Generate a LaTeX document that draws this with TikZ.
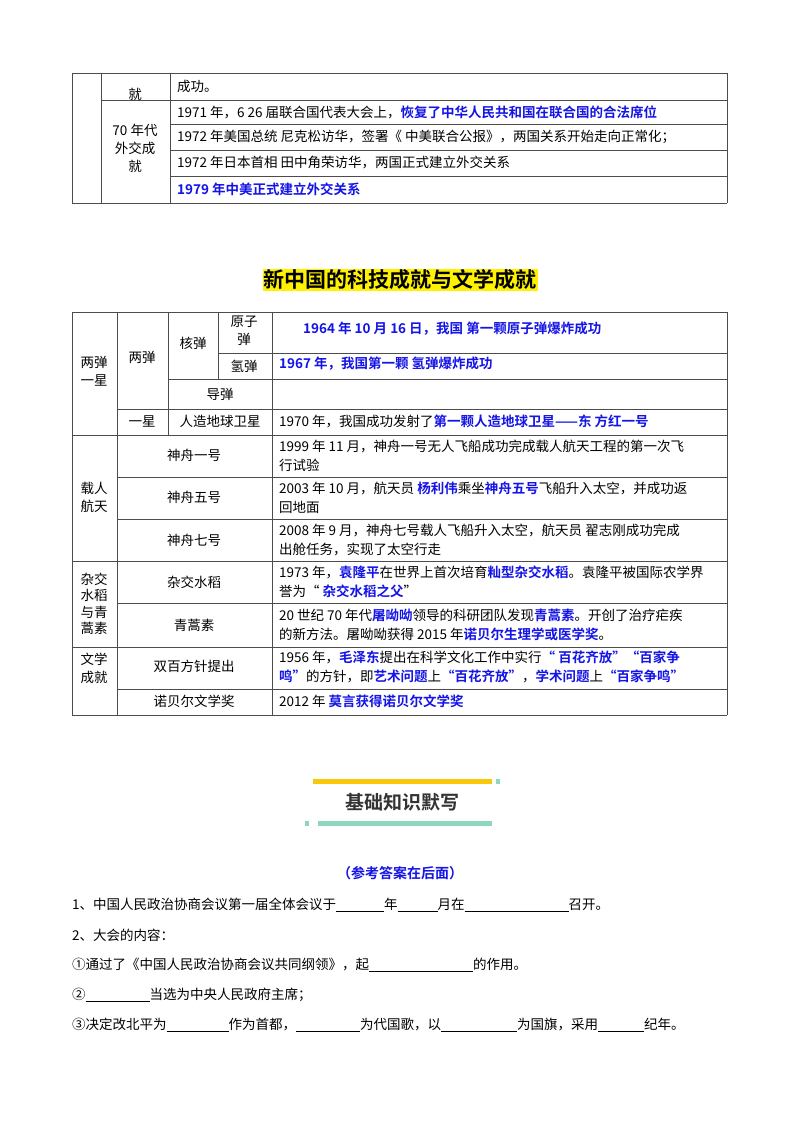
\documentclass[tikz,border=0pt]{standalone}
\usepackage{fontspec}
\setmainfont{Noto Sans CJK SC}[BoldFont={Noto Sans CJK SC Bold}]
\definecolor{blu}{RGB}{20,20,230}
\definecolor{ylw}{RGB}{250,200,10}
\definecolor{teal}{RGB}{140,215,190}
\newcommand{\B}[1]{\textcolor{blu}{\textbf{#1}}}
\newcommand{\U}[1]{\underline{\hspace{#1pt}}}
\begin{document}
\begin{tikzpicture}[x=1pt,y=-1pt,
  tl/.style={draw=black!70,line width=0.7pt},
  txt/.style={font=\fontsize{13.5}{19}\selectfont,inner sep=0pt,anchor=west,align=left},
  ctr/.style={font=\fontsize{13.5}{18}\selectfont,inner sep=0pt,align=center}]
\useasboundingbox (0,0) rectangle (800,1132);
% ---- table 1
\draw[tl] (72,73) -- (727,73) (72,203) -- (727,203);
\draw[tl] (72,73) -- (72,203) (101,73) -- (101,203) (170,73) -- (170,203) (727,73) -- (727,203);
\draw[tl] (101,100) -- (727,100);
\foreach \y in {124,150,176} \draw[tl] (170,\y) -- (727,\y);
\node[txt] (a0) at (177,86) {成功。};
\node[ctr] (a1) at (135,94) {就};
\node[ctr] (a2) at (135,148) {70 年代\\外交成\\就};
\node[txt] (a3) at (177,112) {1971 年，6 26 届联合国代表大会上，\B{恢复了中华人民共和国在联合国的合法席位}};
\node[txt] (a4) at (177,137) {1972 年美国总统 尼克松访华，签署《 中美联合公报》，两国关系开始走向正常化；};
\node[txt] (a5) at (177,162) {1972 年日本首相 田中角荣访华，两国正式建立外交关系};
\node[txt] (a6) at (177,189) {\B{1979 年中美正式建立外交关系}};
% ---- title
\node[font=\fontsize{21}{24}\selectfont\bfseries,fill=yellow,inner sep=1pt] (t) at (400,280) {新中国的科技成就与文学成就};
% ---- table 2
\draw[tl] (72,312) -- (727,312) (72,435) -- (727,435) (72,561) -- (727,561) (72,647) -- (727,647) (72,715) -- (727,715);
\draw[tl] (72,312) -- (72,715) (117,312) -- (117,715) (272,312) -- (272,715) (727,312) -- (727,715);
\draw[tl] (168,312) -- (168,435) (218,312) -- (218,379);
\draw[tl] (218,353) -- (727,353) (168,379) -- (727,379) (117,409) -- (727,409);
\foreach \y in {477,519,603,689} \draw[tl] (117,\y) -- (727,\y);
\node[ctr] (b1) at (94,371) {两弹\\一星};
\node[ctr] (b2) at (142,357) {两弹};
\node[ctr] (b3) at (193,343) {核弹};
\node[ctr] (b4) at (244,331) {原子\\弹};
\node[ctr] (b5) at (244,366) {氢弹};
\node[ctr] (b6) at (220,394) {导弹};
\node[ctr] (b7) at (142,421) {一星};
\node[ctr] (b8) at (220,421) {人造地球卫星};
\node[ctr] (c1) at (94,497) {载人\\航天};
\node[ctr] (c2) at (194,455) {神舟一号};
\node[ctr] (c3) at (194,497) {神舟五号};
\node[ctr] (c4) at (194,540) {神舟七号};
\node[ctr,font=\fontsize{13.5}{16.5}\selectfont] (d1) at (94,604) {杂交\\水稻\\与青\\蒿素};
\node[ctr] (d2) at (194,582) {杂交水稻};
\node[ctr] (d3) at (194,625) {青蒿素};
\node[ctr] (e1) at (94,668) {文学\\成就};
\node[ctr] (e2) at (194,666) {双百方针提出};
\node[ctr] (e3) at (194,701) {诺贝尔文学奖};
\node[txt] (r1) at (303,329) {\B{1964 年 10 月 16 日，我国 第一颗原子弹爆炸成功}};
\node[txt] (r2) at (279,364) {\B{1967 年，我国第一颗 氢弹爆炸成功}};
\node[txt] (r3) at (279,421) {1970 年，我国成功发射了\B{第一颗人造地球卫星——东 方红一号}};
\node[txt] (r4) at (279,456) {1999 年 11 月，神舟一号无人飞船成功完成载人航天工程的第一次飞\\行试验};
\node[txt] (r5) at (279,498) {2003 年 10 月，航天员 \B{杨利伟}乘坐\B{神舟五号}飞船升入太空，并成功返\\回地面};
\node[txt] (r6) at (279,540) {2008 年 9 月，神舟七号载人飞船升入太空，航天员 翟志刚成功完成\\出舱任务，实现了太空行走};
\node[txt] (r7) at (279,582) {1973 年，\B{袁隆平}在世界上首次培育\B{籼型杂交水稻}。袁隆平被国际农学界\\誉为“ \B{杂交水稻之父}”};
\node[txt] (r8) at (279,625) {20 世纪 70 年代\B{屠呦呦}领导的科研团队发现\B{青蒿素}。开创了治疗疟疾\\的新方法。屠呦呦获得 2015 年\B{诺贝尔生理学或医学奖}。};
\node[txt] (r9) at (279,667) {1956 年，\B{毛泽东}提出在科学文化工作中实行\B{“ 百花齐放”“百家争}\\\B{鸣”}的方针，即\B{艺术问题}上\B{“百花齐放”}，\B{学术问题}上\B{“百家争鸣”}};
\node[txt] (r10) at (279,701) {2012 年 \B{莫言获得诺贝尔文学奖}};
% ---- section header
\fill[ylw] (313,779) rectangle (492,784);
\fill[teal] (496,779) rectangle (500,784);
\fill[teal] (318,821) rectangle (492,826);
\fill[teal] (305,821) rectangle (309,826);
\node[font=\fontsize{19}{22}\selectfont\bfseries,text=black!80] (h) at (402,802) {基础知识默写};
\node[font=\fontsize{14}{16}\selectfont\bfseries,text=blu] (h2) at (400,873) {（参考答案在后面）};
\node[txt] (q1) at (72,905) {1、中国人民政治协商会议第一届全体会议于\U{48}年\U{40}月在\U{104}召开。};
\node[txt] (q2) at (72,935) {2、大会的内容：};
\node[txt] (q3) at (72,965) {①通过了《中国人民政治协商会议共同纲领》，起\U{104}的作用。};
\node[txt] (q4) at (72,995) {②\U{64}当选为中央人民政府主席；};
\node[txt] (q5) at (72,1025) {③决定改北平为\U{62}作为首都，\U{64}为代国歌，以\U{76}为国旗，采用\U{46}纪年。};
\end{tikzpicture}
\end{document}
